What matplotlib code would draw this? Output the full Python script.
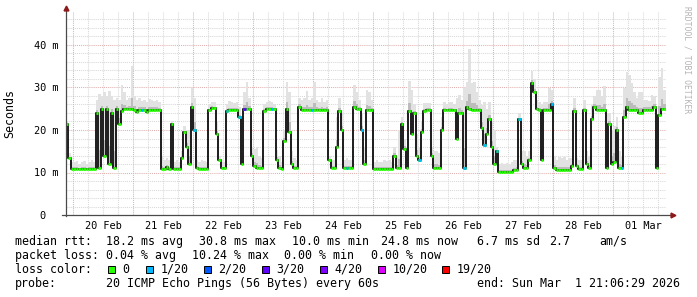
import numpy as np
import matplotlib
matplotlib.use('Agg')
import matplotlib.pyplot as plt

# Hourly samples, x = hours since 20 Feb 00:00 (first bin starts 19 Feb 21:00)
hours = np.arange(-3, 237)

median_ms = [
    21.5, 13.5, 10.8,
    # 20 Feb
    10.8, 10.8, 10.8, 10.8, 10.8, 10.8, 10.8, 10.8, 10.8, 24, 11, 25,
    14, 25, 12, 24, 11, 25, 21.5, 24.5, 25, 25, 25, 25,
    # 21 Feb
    24.8, 24.3, 24.8, 24.8, 24.8, 24.3, 24.8, 24.8, 24.8, 24.8, 24.8, 10.8,
    10.8, 11.3, 10.8, 21.3, 10.8, 10.8, 10.8, 13.5, 19.5, 16, 12, 25.3,
    # 22 Feb
    20, 11, 10.8, 10.8, 10.8, 10.8, 24.7, 25.2, 25.2, 19, 13, 11,
    11, 24.5, 24.7, 24.7, 24.7, 24.7, 23, 12, 25, 25, 25, 14,
    # 23 Feb
    11.5, 11, 11, 11, 24.5, 25, 25, 25, 25, 13, 11, 10.8,
    17.5, 25, 19.5, 12, 11, 11, 25.5, 24.8, 24.8, 24.8, 24.8, 24.8,
    # 24 Feb
    24.8, 24.8, 24.8, 24.8, 24.8, 24.8, 13, 11, 11, 16, 24.5, 20,
    11, 11, 11, 11, 25.5, 25, 25, 20, 12, 24.7, 24.7, 24.7,
    # 25 Feb
    10.8, 10.8, 10.8, 10.8, 10.8, 10.8, 10.8, 10.8, 14, 11, 11, 21.5,
    15.5, 11, 24.5, 19, 24, 14, 13, 19.5, 24.5, 24.8, 24.8, 14,
    # 26 Feb
    11, 11, 11, 20, 24.7, 24.7, 24.7, 24.7, 24.7, 18, 24, 24,
    11, 25.5, 25, 24.7, 24.7, 24.7, 24.7, 20.5, 16.5, 19, 22.5, 16,
    # 27 Feb
    12, 15, 10.1, 10.1, 10.1, 10.1, 10.1, 10.1, 10.5, 10.6, 22.5, 12,
    11, 11, 13, 31, 29, 25, 24.8, 13, 24.8, 24.8, 24.8, 26,
    # 28 Feb
    11, 10.6, 10.6, 10.6, 10.6, 10.6, 10.6, 11.5, 24.5, 11.5, 10.8, 10.8,
    24.7, 12, 11, 22.5, 25.5, 24.7, 24.7, 24.7, 24.7, 11, 21.5, 12,
    # 01 Mar
    12.5, 20, 11, 11, 23, 25.5, 24.8, 24.8, 24.8, 24.8, 24, 24,
    24.8, 24.8, 24.8, 24.8, 25.5, 11, 23.5, 25, 25,
]

smoke_top_ms = [
    22, 14.5, 12.5,
    # 20 Feb
    12.5, 12.8, 12, 12.5, 12.8, 12, 12.5, 13, 12.5, 27, 28.5, 28,
    29, 28, 29.2, 28, 27, 27.5, 27, 30.6, 28.9, 27, 27.5, 35,
    # 21 Feb
    28, 27, 27.5, 26.8, 27, 26.5, 27.2, 27, 26.9, 27, 26.5, 14,
    13, 13.5, 13, 22, 12.5, 13, 12.5, 15, 21, 20, 20, 29.9,
    # 22 Feb
    27.6, 13, 12.5, 13, 12.8, 12.5, 26, 26.6, 26.5, 22, 14, 12.5,
    12.5, 26, 26.8, 26.6, 26.4, 26.6, 25.5, 14, 28.9, 31.3, 27.6, 16,
    # 23 Feb
    15.5, 16, 14, 13.5, 26, 26.6, 26.8, 26.6, 26, 15.3, 14, 12.5,
    20, 31.2, 29, 15, 13.5, 13, 27.5, 27, 27.5, 29.2, 27, 27.5,
    # 24 Feb
    31.4, 27, 26.7, 27.5, 26.7, 27, 14, 13, 13, 23, 27.6, 24,
    13, 13.5, 13, 13, 30.6, 29, 27, 24, 16, 29.5, 28.9, 27,
    # 25 Feb
    12.5, 13, 12.5, 12.5, 13, 12.8, 13, 12.5, 16, 14, 20, 23,
    18, 14, 31.5, 29.5, 26, 19, 16, 22, 26.4, 26.3, 26.4, 16,
    # 26 Feb
    15, 15, 14.5, 23, 26.5, 26, 26.5, 26.6, 26, 27.6, 28.3, 27,
    29.9, 31.2, 39, 31, 31.2, 29, 27, 26, 26.5, 25, 26.6, 22,
    # 27 Feb
    20, 16, 12, 12.3, 12, 12.3, 12, 12.5, 13, 13, 24, 15,
    15, 14, 15, 33.8, 32, 27, 26.5, 26, 26.6, 26.5, 29.9, 29.5,
    # 28 Feb
    14, 13, 13.7, 13.5, 13.7, 13, 13.5, 13.5, 27.6, 13.5, 13, 13,
    27, 15, 14, 26, 28, 29.5, 29.5, 28, 30.4, 24, 24, 20,
    # 01 Mar
    21, 23, 15, 14, 30, 33.6, 33, 31, 29, 27.5, 28.9, 28.9,
    27, 27, 26.8, 28.3, 28, 15, 32.5, 34.5, 29.5,
]

# hours with lost packets (count out of 20)
loss_hours = [27, 48, 61, 66, 68, 79, 95, 109, 115, 138, 156, 164, 169, 178, 191, 219]
loss_counts = [1, 1, 1, 1, 3, 1, 1, 1, 1, 1, 1, 1, 1, 1, 1, 1]

day_labels = ['20 Feb', '21 Feb', '22 Feb', '23 Feb', '24 Feb',
              '25 Feb', '26 Feb', '27 Feb', '28 Feb', '01 Mar']
ytick_values = [0, 10, 20, 30, 40]
ytick_labels = ['0  ', '10 m', '20 m', '30 m', '40 m']

loss_names = ['0', '1/20', '2/20', '3/20', '4/20', '10/20', '19/20']
loss_colors = ['#26ff00', '#00b8ff', '#0059ff', '#5e00ff', '#7e00ff', '#dd00ff', '#ff0000']

W, H = 697, 297
mono = 'DejaVu Sans Mono'
plt.rcParams['lines.scale_dashes'] = False

fig = plt.figure(figsize=(W / 100, H / 100), dpi=100, facecolor='white')
ax = fig.add_axes([65.75 / W, (H - 215) / H, 600 / W, 203.15 / H])
ax.set_facecolor('white')
ax.set_xlim(-2.9, 237.1)
ax.set_ylim(0, 47.8)

med = np.array(median_ms, dtype=float)
top = np.array(smoke_top_ms, dtype=float)

# grid, drawn by hand like rrdtool does
dots = (0, (0.75, 0.75))
for y in np.arange(2, 48, 2):
    major = (y % 10 == 0)
    ax.axhline(y, color='#e2b0b0' if major else '#d8d8d8', lw=0.75, ls=dots, zorder=0)
for h in np.arange(0, 237, 6):
    major = (h % 24 == 0)
    ax.axvline(h, color='#e2b0b0' if major else '#d8d8d8', lw=0.75, ls=dots, zorder=0)

# smoke
ax.bar(hours, top - med, bottom=med, width=1, align='edge', color='#e2e2e2', lw=0, zorder=1)
ax.bar(hours, 0.25 * (top - med), bottom=med, width=1, align='edge', color='#bcbcbc', lw=0, zorder=2)

# median line: dark transitions, coloured flats
edges = np.append(hours, hours[-1] + 1)
ax.step(edges, np.append(med, med[-1]), where='post', color='#1c1c1c', lw=1.4, zorder=3)
ax.hlines(med, hours, hours + 1, color=loss_colors[0], lw=2.0, zorder=4)
for h, c in zip(loss_hours, loss_counts):
    idx = min(c, 4) if c <= 4 else (5 if c <= 10 else 6)
    i = h - hours[0]
    ax.hlines(med[i], h, h + 1, color=loss_colors[idx], lw=2.0, zorder=5)

for s in ax.spines.values():
    s.set_visible(False)

ax.set_xticks(np.arange(12, 240, 24))
ax.set_xticklabels(day_labels)
ax.set_yticks(ytick_values)
ax.set_yticklabels(ytick_labels)
ax.tick_params(length=0, labelsize=7.35, colors='black')
ax.tick_params(axis='x', pad=4)
ax.tick_params(axis='y', pad=5)
for lab in ax.get_xticklabels() + ax.get_yticklabels():
    lab.set_family(mono)

# axes with arrows
axis_col = '#4a4a4a'
arrow_col = '#8b1a1a'
ax.plot([-4.5, 239.5], [0, 0], color=axis_col, lw=0.9, clip_on=False, zorder=6)
ax.plot([-2.9, -2.9], [-0.3, 48.4], color=axis_col, lw=0.9, clip_on=False, zorder=6)
ax.plot([239.8], [0], marker='>', color=arrow_col, ms=3.5, clip_on=False, zorder=7)
ax.plot([-2.9], [48.8], marker='^', color=arrow_col, ms=3.5, clip_on=False, zorder=7)


def px(x, y):
    return x / W, 1 - y / H


fs = 8.4
fig.text(*px(10, 114), 'Seconds', rotation=90, ha='center', va='center',
         family=mono, fontsize=fs)
fig.text(*px(687, 60), 'RRDTOOL / TOBI OETIKER', rotation=270, ha='center', va='center',
         family=mono, fontsize=5.8, color='#b4b4b4')

rows = [
    (245, [(16, 'median rtt:'), (107, '18.2 ms avg'), (200, '30.8 ms max'),
           (293, '10.0 ms min'), (382, '24.8 ms now'), (478, '6.7 ms sd'),
           (550, '2.7'), (600, 'am/s')]),
    (259, [(16, 'packet loss:'), (107, '0.04 % avg'), (193, '10.24 % max'),
           (285, '0.00 % min'), (371.5, '0.00 % now')]),
    (273, [(16, 'loss color:')]),
    (287, [(16, 'probe:'), (107, '20 ICMP Echo Pings (56 Bytes) every 60s'),
           (478, 'end: Sun Mar  1 21:06:29 2026')]),
]
for y, items in rows:
    for x, s in items:
        fig.text(*px(x - 0.7, y), s, ha='left', va='baseline', family=mono, fontsize=fs)

box_x = [108, 146, 204, 262, 320, 378, 442]
for bx, name, col in zip(box_x, loss_names, loss_colors):
    fig.patches.append(plt.Rectangle(px(bx, 272.5), 7 / W, 7 / H, transform=fig.transFigure,
                                     facecolor=col, edgecolor='black', lw=0.7))
    fig.text(*px(bx + 14.3, 273), name, ha='left', va='baseline', family=mono, fontsize=fs)

fig.savefig('out.png', dpi=100, facecolor='white')
